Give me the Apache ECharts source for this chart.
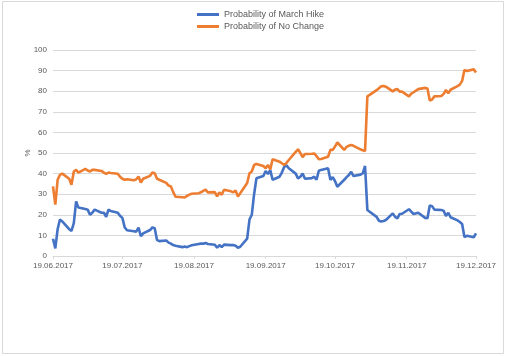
<!DOCTYPE html>
<html>
<head>
<meta charset="utf-8">
<script src="https://cdn.jsdelivr.net/npm/echarts@6/dist/echarts.min.js"></script>
<style>
html,body{margin:0;padding:0;background:#fff;}
#c{width:505px;height:356px;}
</style>
</head>
<body>
<div id="c"></div>
<script>
// ---- data ----
const dates = [
 '2017-06-19','2017-06-20','2017-06-21','2017-06-22','2017-06-23','2017-06-26','2017-06-27','2017-06-28','2017-06-29','2017-06-30',
 '2017-07-03','2017-07-04','2017-07-05','2017-07-06','2017-07-07','2017-07-10','2017-07-11','2017-07-12','2017-07-13','2017-07-14',
 '2017-07-17','2017-07-18','2017-07-19','2017-07-20','2017-07-21','2017-07-24','2017-07-25','2017-07-26','2017-07-27','2017-07-28',
 '2017-07-31','2017-08-01','2017-08-02','2017-08-03','2017-08-04','2017-08-07','2017-08-08','2017-08-09','2017-08-10','2017-08-11',
 '2017-08-14','2017-08-15','2017-08-16','2017-08-17','2017-08-18','2017-08-21','2017-08-22','2017-08-23','2017-08-24','2017-08-25',
 '2017-08-28','2017-08-29','2017-08-30','2017-08-31','2017-09-01','2017-09-04','2017-09-05','2017-09-06','2017-09-07','2017-09-08',
 '2017-09-11','2017-09-12','2017-09-13','2017-09-14','2017-09-15','2017-09-18','2017-09-19','2017-09-20','2017-09-21','2017-09-22',
 '2017-09-25','2017-09-26','2017-09-27','2017-09-28','2017-09-29','2017-10-02','2017-10-03','2017-10-04','2017-10-05','2017-10-06',
 '2017-10-09','2017-10-10','2017-10-11','2017-10-12','2017-10-13','2017-10-16','2017-10-17','2017-10-18','2017-10-19','2017-10-20',
 '2017-10-23','2017-10-24','2017-10-25','2017-10-26','2017-10-27','2017-10-30','2017-10-31','2017-11-01','2017-11-02','2017-11-03',
 '2017-11-06','2017-11-07','2017-11-08','2017-11-09','2017-11-10','2017-11-13','2017-11-14','2017-11-15','2017-11-16','2017-11-17',
 '2017-11-20','2017-11-21','2017-11-22','2017-11-24','2017-11-27','2017-11-28','2017-11-29','2017-11-30','2017-12-01','2017-12-04',
 '2017-12-05','2017-12-06','2017-12-07','2017-12-08','2017-12-11','2017-12-12','2017-12-13','2017-12-14','2017-12-15','2017-12-18',
 '2017-12-19'
];
const marchHike = [
 8.4,3.7,13,17.7,16.8,13,12.2,16,26.5,23.5,
 22.8,22.5,20,21,22.5,21,21,19,22.5,21.8,
 21,19.5,18.5,14,12.5,12,11.8,13.8,9.6,11,
 12.6,13.9,13.5,7.8,7.2,7.5,6.5,6,5.3,5,
 4.3,4.6,4.3,4.8,5.2,5.8,6,6,6.3,5.8,
 5.5,4,5.3,4.3,5.5,5.3,5.3,5,4,4.5,
 8.4,17.7,20,30,37.7,38.8,41.3,39.8,41.7,37,
 38.5,40.5,43.2,44,42.6,40,37.7,38.5,40.1,37.5,
 37.8,38.5,37,41.4,41.8,42.6,37,38.3,36.4,33.6,
 37,38.3,39.3,40.9,38.8,39.5,40.1,43.7,22.3,21.5,
 19,17.1,16.7,17,17.5,20.7,19,18.3,20.4,20.5,
 22.7,21.5,20.4,21,18.5,18.3,24.5,24.2,22.5,22.3,
 22,19.4,21,18.8,17.3,16.5,15.5,9.2,9.8,9.1,
 11
];
const noChange = [
 33.8,24.9,37,39.4,40,37.5,34.6,41,41.8,40.5,
 42.3,41.5,41,41.8,41.8,41.3,40.5,39.9,40.5,40.3,
 39.9,38.5,37.5,37,37.3,36.8,37.2,38.6,35.7,37.5,
 38.9,40.5,40.2,37.5,37,35.5,34.2,33.8,31,28.8,
 28.5,28.4,29.2,29.8,30.2,30.5,30.9,31.6,32.2,30.9,
 31,28.9,30.9,29.7,32.2,31.4,30.9,31.8,28.9,30.5,
 35.4,40.2,41,44.2,44.7,43.7,42.6,44.2,42,47,
 45.8,45,44.2,45.2,46.6,50.5,51.8,50,48,49.5,
 49.6,49.8,48.5,47,47.1,48.2,51.5,51.5,53.1,55.1,
 51.5,53,53.5,53.9,53.5,51.8,51.3,51,77.5,78.2,
 80.5,81.4,82.4,82.5,82.2,79.9,80.8,81,79.8,79.8,
 77.5,78.8,79.5,81,81.6,81.3,75.5,76,77.5,77.7,
 78.7,80.6,79,80.7,82.5,83.2,85,90.3,89.8,90.6,
 89.1
];
const xTickDates = ['2017-06-19','2017-07-19','2017-08-19','2017-09-19','2017-10-19','2017-11-19','2017-12-19'];
const seriesNames = ['Probability of March Hike','Probability of No Change'];

function ts(s){const p=s.split('-').map(Number);return Date.UTC(p[0],p[1]-1,p[2]);}
function pad(n){return (n<10?'0':'')+n;}
function fmt(v){const d=new Date(v);return pad(d.getUTCDate())+'.'+pad(d.getUTCMonth()+1)+'.'+d.getUTCFullYear();}

const tickVals = xTickDates.map(ts);
const chart = echarts.init(document.getElementById('c'), null, {renderer:'canvas'});
const txt = '#595959';
const font = 'Liberation Sans';
chart.setOption({
  animation:false,
  backgroundColor:'#fff',
  graphic:[{type:'rect',shape:{x:2.5,y:1.5,width:501,height:352},style:{fill:'none',stroke:'#d9d9d9',lineWidth:1},silent:true}],
  legend:{
    orient:'vertical', left:192, top:5, itemWidth:22, itemHeight:3, itemGap:3,
    icon:'rect',
    textStyle:{color:txt,fontSize:9,fontFamily:font},
    data:seriesNames
  },
  grid:{left:53,right:29,top:50,bottom:100,containLabel:false},
  xAxis:{
    type:'value', min:tickVals[0], max:tickVals[tickVals.length-1], scale:true,
    axisLine:{show:true,lineStyle:{color:'#d9d9d9',width:1}},
    axisTick:{show:true,customValues:tickVals,length:3,lineStyle:{color:'#d9d9d9'}},
    axisLabel:{customValues:tickVals,formatter:fmt,color:txt,fontSize:8,fontFamily:font,margin:6,showMinLabel:true,showMaxLabel:true},
    splitLine:{show:false}
  },
  yAxis:{
    type:'value', min:0, max:100, interval:10,
    name:'%', nameLocation:'middle', nameGap:21, nameRotate:90, nameMoveOverlap:false,
    nameTextStyle:{color:txt,fontSize:8,fontFamily:font},
    axisLine:{show:false}, axisTick:{show:false},
    axisLabel:{color:txt,fontSize:8,fontFamily:font,margin:6},
    splitLine:{lineStyle:{color:'#d9d9d9',width:1}}
  },
  series:[
    {name:seriesNames[0],type:'line',showSymbol:false,symbol:'none',
     lineStyle:{color:'#4472C4',width:2.6},itemStyle:{color:'#4472C4'},
     data:dates.map((d,i)=>[ts(d),marchHike[i]])},
    {name:seriesNames[1],type:'line',showSymbol:false,symbol:'none',
     lineStyle:{color:'#ED7D31',width:2.6},itemStyle:{color:'#ED7D31'},
     data:dates.map((d,i)=>[ts(d),noChange[i]])}
  ]
});
</script>
</body>
</html>
